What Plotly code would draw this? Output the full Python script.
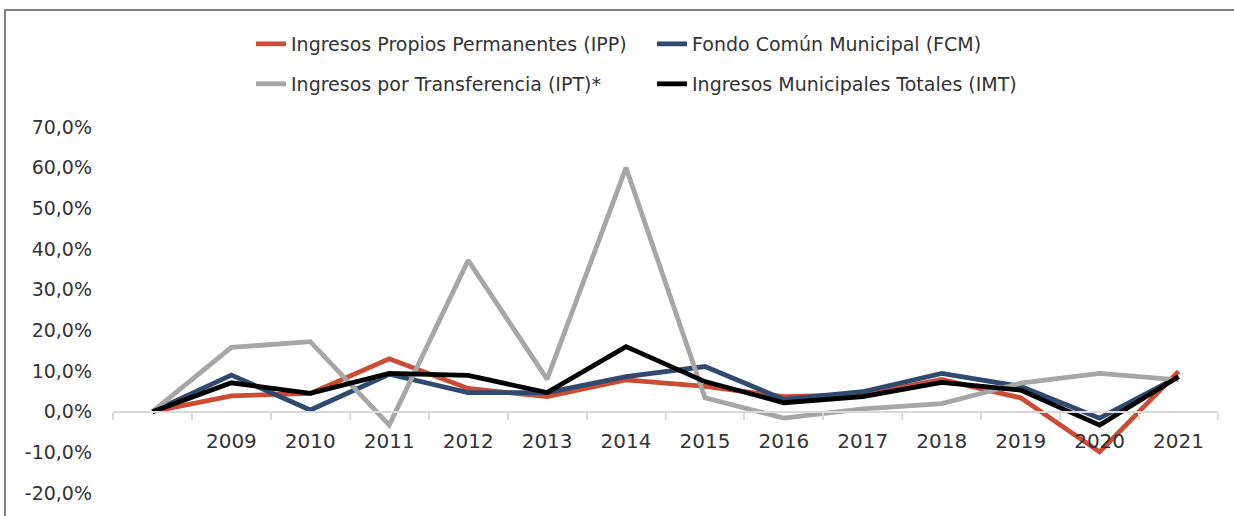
import plotly.graph_objects as go

# ---- data ----
categories = ["2008", "2009", "2010", "2011", "2012", "2013", "2014", "2015",
              "2016", "2017", "2018", "2019", "2020", "2021"]
x_tick_labels = ["", "2009", "2010", "2011", "2012", "2013", "2014", "2015",
                 "2016", "2017", "2018", "2019", "2020", "2021"]

ipp = [0.0, 0.039, 0.045, 0.130, 0.057, 0.037, 0.078, 0.062, 0.037, 0.042, 0.079, 0.034, -0.099, 0.099]
fcm = [0.0, 0.090, 0.004, 0.092, 0.047, 0.047, 0.086, 0.111, 0.030, 0.049, 0.094, 0.062, -0.016, 0.086]
ipt = [0.0, 0.158, 0.172, -0.033, 0.372, 0.080, 0.600, 0.034, -0.016, 0.007, 0.020, 0.070, 0.094, 0.078]
imt = [0.0, 0.071, 0.045, 0.094, 0.089, 0.047, 0.160, 0.074, 0.022, 0.037, 0.072, 0.053, -0.033, 0.086]

series_names = ["Ingresos Propios Permanentes (IPP)", "Fondo Común Municipal (FCM)",
                "Ingresos por Transferencia (IPT)*", "Ingresos Municipales Totales (IMT)"]
series_values = [ipp, fcm, ipt, imt]
series_colors = ["#CC4C33", "#2F4A6F", "#A6A6A6", "#000000"]
series_legends = ["legend", "legend", "legend2", "legend2"]

y_tick_vals = [-0.2, -0.1, 0.0, 0.1, 0.2, 0.3, 0.4, 0.5, 0.6, 0.7]
y_tick_labels = ["-20,0%", "-10,0%", "0,0%", "10,0%", "20,0%", "30,0%",
                 "40,0%", "50,0%", "60,0%", "70,0%"]

FONT = "DejaVu Sans"
TXT = "#333333"

fig = go.Figure()
for name, vals, col, lg in zip(series_names, series_values, series_colors, series_legends):
    fig.add_trace(go.Scatter(
        x=categories, y=vals, name=name, mode="lines",
        line=dict(color=col, width=4.8),
        legend=lg, hoverinfo="skip",
    ))

W, H = 1234, 516
ml, mr, mt, mb = 113, 16, 127, 23
pw, ph = W - ml - mr, H - mt - mb

def px_x(p):
    return (p - ml) / pw

def px_y(p):
    return (H - mb - p) / ph

legend_common = dict(
    orientation="h", xanchor="left", yanchor="middle",
    font=dict(family=FONT, size=19, color=TXT),
    entrywidth=356, entrywidthmode="pixels",
    bgcolor="rgba(0,0,0,0)", borderwidth=0,
    itemclick=False, itemdoubleclick=False,
)

fig.update_layout(
    width=W, height=H,
    margin=dict(l=ml, r=mr, t=mt, b=mb, pad=0),
    paper_bgcolor="white", plot_bgcolor="white",
    font=dict(family=FONT, size=19, color=TXT),
    showlegend=True,
    legend=dict(x=px_x(251), y=px_y(44), **legend_common),
    legend2=dict(x=px_x(251), y=px_y(84), **legend_common),
    xaxis=dict(
        type="category", categoryorder="array", categoryarray=categories,
        range=[-0.5, len(categories) - 0.5],
        tickmode="array", tickvals=categories, ticktext=x_tick_labels,
        anchor="free", position=(0 - (-0.2)) / 0.9,
        showline=True, linecolor="#D9D9D9", linewidth=2,
        ticks="outside", ticklen=7, tickwidth=2, tickcolor="#D9D9D9",
        tickson="boundaries", ticklabelstandoff=11,
        showgrid=False, zeroline=False,
        tickfont=dict(family=FONT, size=20, color=TXT),
    ),
    yaxis=dict(
        range=[-0.2, 0.7], tickmode="array", tickvals=y_tick_vals, ticktext=y_tick_labels,
        showgrid=False, zeroline=False, showline=False, ticks="",
        ticklabelstandoff=20,
        tickfont=dict(family=FONT, size=19, color=TXT),
    ),
    shapes=[dict(
        type="rect", xref="paper", yref="paper",
        x0=px_x(5), x1=px_x(1300), y0=px_y(600), y1=px_y(10),
        line=dict(color="#7F7F7F", width=2), fillcolor="rgba(0,0,0,0)", layer="above",
    )],
)

fig.write_html("out.html", config={"displayModeBar": False},
               post_script="document.body.style.margin='0';")
